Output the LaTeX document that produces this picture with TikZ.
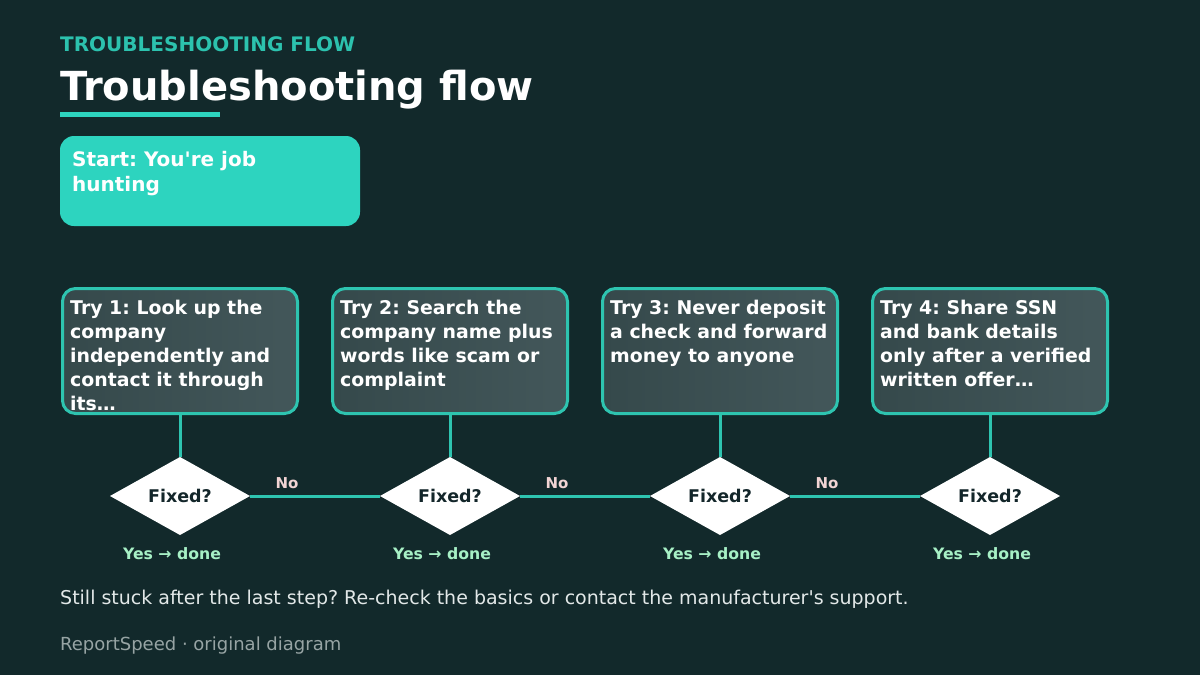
\documentclass[tikz,border=0pt]{standalone}
\usepackage{fontspec}
\newfontfamily\djv{DejaVu Sans}
\usetikzlibrary{shapes.geometric}
\definecolor{bg}{HTML}{12292B}
\definecolor{accent}{HTML}{2DD4BF}
\definecolor{kicker}{HTML}{2CC2AE}
\definecolor{edge}{HTML}{2EC4B0}
\definecolor{boxA}{HTML}{35494B}
\definecolor{boxB}{HTML}{43575A}
\definecolor{nocol}{HTML}{F2D4D4}
\definecolor{yescol}{HTML}{A7F0C6}
\definecolor{foot}{HTML}{E2E8E8}
\definecolor{muted}{HTML}{97A4A4}
\definecolor{dark}{HTML}{13262A}
\tikzset{
  trybox/.style={draw=edge, line width=3pt, rounded corners=13pt, left color=boxA, right color=boxB,
    minimum width=235pt, minimum height=125pt, inner sep=0pt, outer sep=0pt, anchor=north west},
  trytext/.style={anchor=north west, inner sep=0pt, text=white, align=left,
    font=\djv\bfseries\fontsize{18.9}{24}\selectfont},
  decide/.style={diamond, fill=white, minimum width=140pt, minimum height=78pt, inner sep=0pt, outer sep=0pt,
    text=dark, font=\djv\bfseries\fontsize{17.5}{20}\selectfont},
  conn/.style={draw=edge, line width=3pt},
  nolabel/.style={text=nocol, font=\djv\bfseries\fontsize{15}{18}\selectfont, inner sep=0pt},
  yeslabel/.style={text=yescol, font=\djv\bfseries\fontsize{15.7}{18}\selectfont, inner sep=0pt},
}
\begin{document}
\djv\frenchspacing
\begin{tikzpicture}[x=1pt,y=-1pt]
\fill[bg] (0,0) rectangle (1200,675);
\useasboundingbox (0,0) rectangle (1200,675);

\node[anchor=base west, inner sep=0pt, text=kicker, font=\djv\bfseries\fontsize{20}{24}\selectfont] (kick) at (60,51) {TROUBLESHOOTING FLOW};
\node[anchor=base west, inner sep=0pt, text=white, font=\djv\bfseries\fontsize{40}{44}\selectfont] (title) at (60,100) {Troubleshooting flow};
\fill[accent] (60,112) rectangle (220,117);

\node[fill=accent, rounded corners=14pt, minimum width=300pt, minimum height=90pt, inner sep=0pt, outer sep=0pt, anchor=north west] (start) at (60,136) {};
\node[anchor=north west, inner sep=0pt, text=white, align=left, font=\djv\bfseries\fontsize{20}{25}\selectfont] (starttext) at (72,151.5) {Start: You're job\\hunting};

\foreach \i/\x in {1/61,2/331,3/601,4/871}{
  \node[trybox] (b\i) at (\x+1.5,288.5) {};
}
\node[trytext] (t1) at (70,300) {Try 1: Look up the\\company\\independently and\\contact it through\\its…};
\node[trytext] (t2) at (340,300) {Try 2: Search the\\company name plus\\words like scam or\\complaint};
\node[trytext] (t3) at (610,300) {Try 3: Never deposit\\a check and forward\\money to anyone};
\node[trytext] (t4) at (880,300) {Try 4: Share SSN\\and bank details\\only after a verified\\written offer…};

\foreach \i/\x in {1/180,2/450,3/720,4/990}{
  \node[decide] (d\i) at (\x,496) {Fixed?};
  \draw[conn] (b\i.south) -- (d\i.north);
  \node[yeslabel] (y\i) at (\x-8,554) {Yes → done};
}
\draw[conn] (d1.east) -- (d2.west) node[nolabel, pos=0.285, yshift=13pt] (n1) {No};
\draw[conn] (d2.east) -- (d3.west) node[nolabel, pos=0.285, yshift=13pt] (n2) {No};
\draw[conn] (d3.east) -- (d4.west) node[nolabel, pos=0.285, yshift=13pt] (n3) {No};

\node[anchor=base west, inner sep=0pt, text=foot, font=\djv\fontsize{19}{22}\selectfont] (note) at (60,604) {Still stuck after the last step? Re-check the basics or contact the manufacturer's support.};
\node[anchor=base west, inner sep=0pt, text=muted, font=\djv\fontsize{18}{22}\selectfont] (credit) at (60,650) {ReportSpeed · original diagram};
\end{tikzpicture}
\end{document}
